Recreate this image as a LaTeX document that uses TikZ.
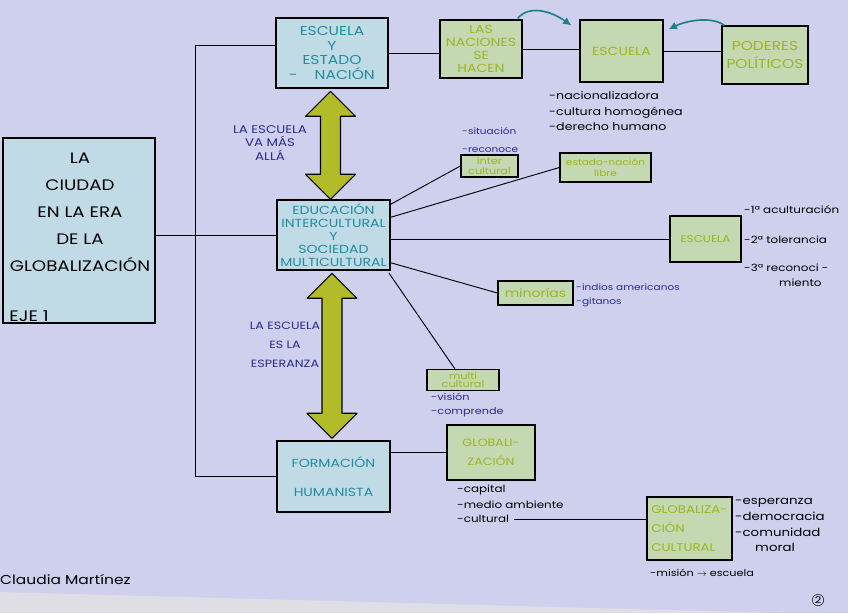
\documentclass[tikz,border=0pt]{standalone}
\usepackage{fontspec}
\setmainfont{Poppins}[FakeStretch=1.2]
\usetikzlibrary{calc,arrows.meta}
\definecolor{paper}{RGB}{206,208,238}
\definecolor{tablegrey}{RGB}{222,222,228}
\definecolor{boxblue}{RGB}{192,218,230}
\definecolor{boxgreen}{RGB}{196,216,178}
\definecolor{inkteal}{RGB}{32,140,160}
\definecolor{inkolive}{RGB}{156,182,28}
\definecolor{inkblue}{RGB}{42,42,140}
\definecolor{arrowolive}{RGB}{178,188,40}
\definecolor{curveteal}{RGB}{28,128,140}
\tikzset{
  bluebox/.style={draw, line width=1.3pt, fill=boxblue, text=inkteal, align=center,
    inner sep=0pt, font=\fontsize{10}{11}\selectfont},
  greenbox/.style={draw, line width=1.1pt, fill=boxgreen, text=inkolive, align=center,
    inner sep=0pt, font=\fontsize{10}{11}\selectfont},
  note/.style={text=inkblue, align=left, anchor=north west, inner sep=0pt,
    font=\fontsize{8}{12}\selectfont},
  lista/.style={anchor=north west, align=left, inner sep=0pt,
    font=\fontsize{8.5}{13}\selectfont},
  bigarrow/.style={draw, line width=0.9pt, fill=arrowolive, line join=round},
  curve/.style={curveteal, line width=1.4pt, -{Latex[length=7pt,width=7pt]}}
}
\begin{document}
\begin{tikzpicture}[x=0.03cm, y=-0.03cm]
  \fill[paper] (0,0) rectangle (848,613);
  \fill[tablegrey] (0,592) -- (780,613) -- (0,613) -- cycle;
  \useasboundingbox (0,0) rectangle (848,613);

  % eje central
  \node[draw, line width=1.3pt, fill=boxblue, minimum width=4.56cm, minimum height=5.55cm]
    (main) at (79,230.5) {};
  \node[align=center, font=\fontsize{13}{23}\selectfont] (maintxt) at (80,212)
    {LA\\CIUDAD\\EN LA ERA\\DE LA\\GLOBALIZACIÓN};
  \node[anchor=south west, inner xsep=6pt, inner ysep=2pt, font=\fontsize{13}{14}\selectfont]
    (eje) at (main.south west) {EJE 1};

  \node[bluebox, minimum width=3.36cm, minimum height=2.1cm,
    font=\fontsize{11}{12.5}\selectfont] (esc) at (332,53)
    {ESCUELA\\Y\\ESTADO\\- \quad NACIÓN};
  \node[bluebox, minimum width=3.39cm, minimum height=2.1cm] (edu) at (333.5,235)
    {EDUCACIÓN\\INTERCULTURAL\\Y\\SOCIEDAD\\MULTICULTURAL};
  \node[bluebox, minimum width=3.39cm, minimum height=2.13cm,
    font=\fontsize{10}{25}\selectfont] (form) at (333.5,476.5) {FORMACIÓN\\HUMANISTA};

  \coordinate (br) at (195,45);
  \draw[line width=0.8pt] (esc.west |- br) -- (br) -- (br |- form.west) -- (form.west);
  \draw[line width=0.8pt] (main.east |- edu.west) -- (edu.west);

  \foreach \a/\len in {esc/58, edu/115}
    \draw[bigarrow] ($(\a.south)+(-1.5,2.5)$) -- ++(25,25) -- ++(-15,0) -- ++(0,\len)
      -- ++(15,0) -- ++(-25,25) -- ++(-25,-25) -- ++(15,0) -- ++(0,-\len)
      -- ++(-15,0) -- cycle;

  \node[note, anchor=center, align=center, font=\fontsize{9.5}{11.5}\selectfont] (masalla)
    at (270,143) {LA ESCUELA\\VA MÁS\\ALLÁ};
  \node[note, anchor=center, align=center, font=\fontsize{9}{16}\selectfont] (esperanza)
    at (285,345) {LA ESCUELA\\ES LA\\ESPERANZA};

  % fila de arriba
  \node[greenbox, minimum width=2.46cm, minimum height=1.74cm] (nac) at (481,49)
    {LAS\\NACIONES\\SE\\HACEN};
  \node[greenbox, minimum width=2.49cm, minimum height=1.86cm] (escA) at (621.5,51) {ESCUELA};
  \node[greenbox, minimum width=2.58cm, minimum height=1.74cm,
    font=\fontsize{11}{15}\selectfont] (pod) at (765,55) {PODERES\\POLÍTICOS};
  \draw[line width=0.8pt] (esc.east) -- (esc.east -| nac.west);
  \draw[line width=0.8pt] (escA.west |- nac.east) -- (nac.east);
  \draw[line width=0.8pt] (escA.east) -- (escA.east -| pod.west);
  \draw[curve] ($(nac.north east)+(-5,-1)$) .. controls +(12,-14) and +(-20,-14)
    .. ($(escA.north west)+(-8,6)$);
  \draw[curve] ($(pod.north west)+(3,0)$) .. controls +(-14,-10) and +(16,-8)
    .. ($(escA.north east)+(5,10)$);
  \node[lista, font=\fontsize{9}{13.5}\selectfont] (nalist) at (549,91)
    {-nacionalizadora\\-cultura homogénea\\-derecho humano};

  % ramas de educacion intercultural
  \node[note, font=\fontsize{7.5}{16}\selectfont] (sit) at (462,127) {-situación\\-reconoce};
  \node[greenbox, minimum width=1.71cm, minimum height=0.66cm,
    font=\fontsize{8}{8}\selectfont] (inter) at (489.5,166) {inter\\cultural};
  \node[greenbox, minimum width=2.73cm, minimum height=0.87cm,
    font=\fontsize{7.5}{10}\selectfont] (estnac) at (605.5,167.5) {estado-nación\\libre};
  \node[greenbox, minimum width=2.13cm, minimum height=1.38cm,
    font=\fontsize{8.5}{10}\selectfont] (escR) at (705.5,239) {ESCUELA};
  \node[greenbox, minimum width=2.25cm, minimum height=0.72cm] (minor) at (535.5,293) {minorías};
  \node[greenbox, minimum width=2.16cm, minimum height=0.62cm,
    font=\fontsize{8}{7.5}\selectfont] (multi) at (463,380) {multi\\cultural};
  \draw[line width=0.8pt] ($(edu.north east)+(0,5)$) -- (inter.west);
  \draw[line width=0.8pt] ($(edu.north east)+(0,18)$) -- (estnac.west);
  \draw[line width=0.8pt] (escR.west -| edu.east) -- (escR.west);
  \draw[line width=0.8pt] ($(edu.south east)+(0,-8)$) -- (minor.west);
  \draw[line width=0.8pt] ($(edu.south east)+(-2,2)$) -- ($(multi.north)+(-8,0)$);

  \node[lista] (escRlist) at (744,205)
    {-1ª aculturación\\[13pt]-2ª tolerancia\\[11pt]-3ª reconoci -\\\hspace*{1.05cm}miento};
  \node[note, font=\fontsize{7.5}{12}\selectfont] (minlist) at (576,284)
    {-indios americanos\\-gitanos};
  \node[note] (multlist) at (431,393) {-visión\\-comprende};

  % globalizacion
  \node[greenbox, minimum width=2.64cm, minimum height=1.65cm,
    font=\fontsize{9}{16}\selectfont] (glob) at (491,452.5) {GLOBALI-\\ZACIÓN};
  \draw[line width=0.8pt] (form.east |- glob.west) -- (glob.west);
  \node[lista] (glist) at (457,485) {-capital\\-medio ambiente};
  \node[lista] (cult) at (457,515) {-cultural};
  \node[greenbox, minimum width=2.55cm, minimum height=1.89cm,
    font=\fontsize{9.5}{16}\selectfont, align=left] (globc) at (689.5,528.5)
    {GLOBALIZA-\\CIÓN\\CULTURAL};
  \draw[line width=0.8pt] ($(cult.east)+(5,0)$) -- (cult.east -| globc.west);
  \node[lista, font=\fontsize{9.5}{13.5}\selectfont] (gclist) at (735,498)
    {-esperanza\\-democracia\\-comunidad\\\hspace*{0.6cm}moral};
  \node[lista, font=\fontsize{8}{10}\selectfont] (mision) at (650,569) {-misión $\to$ escuela};

  \node[anchor=west, inner sep=0pt, font=\fontsize{11}{14}\selectfont] (autora)
    at (0,580) {Claudia Martínez};
  \node[draw, circle, inner sep=0.6pt, font=\fontsize{8}{9}\selectfont] (pag)
    at (818,600) {2};
\end{tikzpicture}
\end{document}
